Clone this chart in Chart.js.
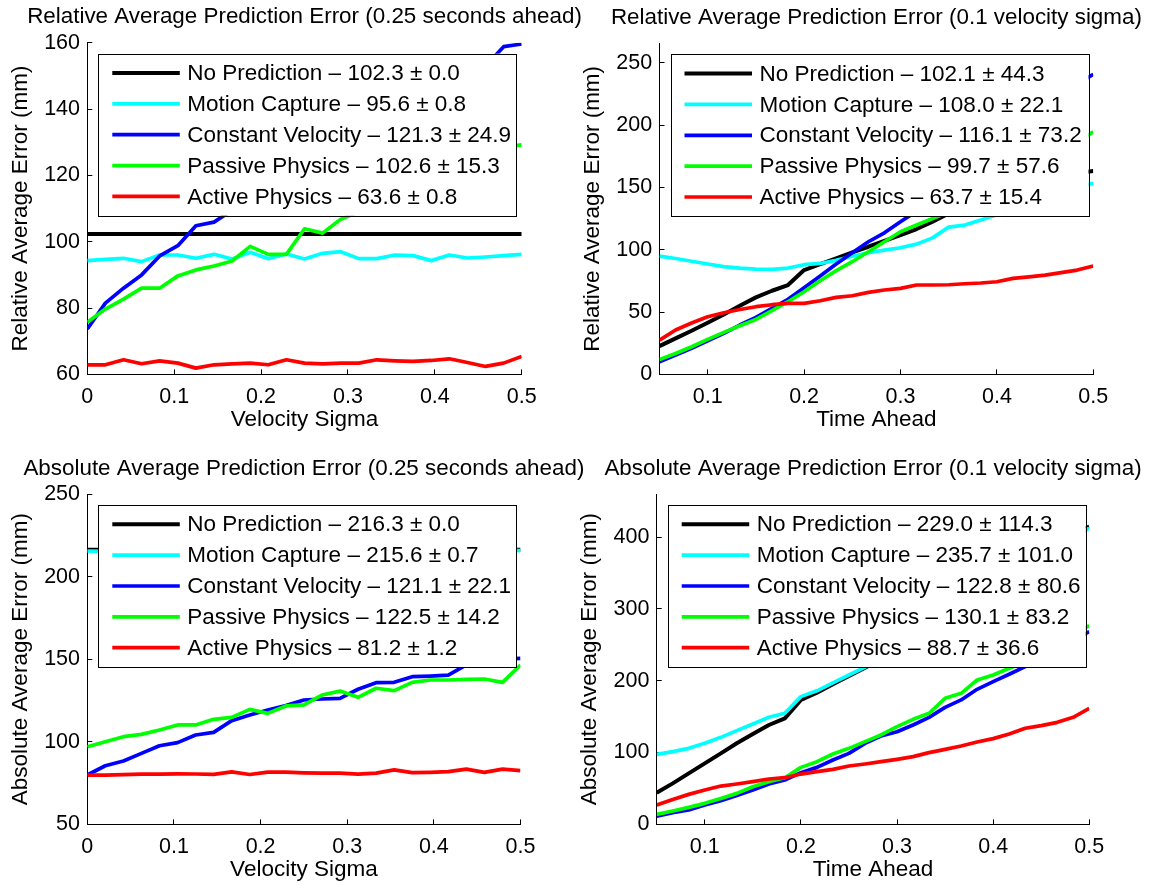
<!DOCTYPE html>
<html>
<head>
<meta charset="utf-8">
<title>Average Prediction Error</title>
<script src="https://cdn.jsdelivr.net/npm/chart.js@4.4.0/dist/chart.umd.min.js"></script>
<style>
  html, body { margin: 0; padding: 0; background: #ffffff; }
  #wrap { position: relative; width: 1152px; height: 885px; overflow: hidden; }
  #wrap canvas { position: absolute; left: 0; top: 0; }
</style>
</head>
<body>
<div id="wrap">
  <canvas id="relSigma" width="1152" height="885"></canvas>
  <canvas id="relTime" width="1152" height="885"></canvas>
  <canvas id="absSigma" width="1152" height="885"></canvas>
  <canvas id="absTime" width="1152" height="885"></canvas>
</div>
<script>
// x samples
const velocitySigma = [0, 0.0208, 0.0417, 0.0625, 0.0833, 0.1042, 0.125, 0.1458, 0.1667, 0.1875, 0.2083, 0.2292, 0.25,
  0.2708, 0.2917, 0.3125, 0.3333, 0.3542, 0.375, 0.3958, 0.4167, 0.4375, 0.4583, 0.4792, 0.5];
const timeAhead = [0.05, 0.0667, 0.0833, 0.1, 0.1167, 0.1333, 0.15, 0.1667, 0.1833, 0.2, 0.2167, 0.2333, 0.25, 0.2667,
  0.2833, 0.3, 0.3167, 0.3333, 0.35, 0.3667, 0.3833, 0.4, 0.4167, 0.4333, 0.45, 0.4667, 0.4833, 0.5];

const methodNames = ['No Prediction', 'Motion Capture', 'Constant Velocity', 'Passive Physics', 'Active Physics'];
const methodColors = ['#000000', '#00ffff', '#0000ff', '#00ff00', '#ff0000'];

// relative error, 0.25 s ahead
const relSigmaNoPred = [102.3, 102.3, 102.3, 102.3, 102.3, 102.3, 102.3, 102.3, 102.3, 102.3, 102.3, 102.3, 102.3,
  102.3, 102.3, 102.3, 102.3, 102.3, 102.3, 102.3, 102.3, 102.3, 102.3, 102.3, 102.3];
const relSigmaMocap = [94.3, 94.7, 95.0, 94.0, 96.0, 96.0, 95.0, 96.2, 94.8, 96.8, 94.9, 96.3, 94.8, 96.5, 97.0, 94.9,
  94.9, 96.0, 95.8, 94.3, 96.0, 95.1, 95.4, 95.8, 96.2];
const relSigmaConstVel = [73.7, 81.5, 86.0, 90.0, 95.7, 98.8, 104.8, 105.9, 109.5, 113.0, 116.5, 119.5, 122.0, 124.5,
  127.5, 130.5, 134.0, 137.5, 141.0, 144.5, 148.0, 151.0, 153.0, 158.8, 159.6];
const relSigmaPassive = [75.7, 79.7, 82.7, 86.0, 86.0, 89.7, 91.5, 92.7, 94.2, 98.6, 96.2, 96.2, 103.9, 102.6, 106.8,
  109.0, 111.5, 113.5, 115.5, 117.5, 119.5, 121.5, 124.0, 128.5, 129.2];
const relSigmaActive = [62.9, 62.9, 64.4, 63.2, 64.1, 63.4, 61.9, 62.9, 63.2, 63.4, 62.9, 64.4, 63.4, 63.2, 63.4, 63.4,
  64.4, 64.1, 63.9, 64.2, 64.7, 63.6, 62.4, 63.4, 65.4];
const relSigmaStats = ['102.3 ± 0.0', '95.6 ± 0.8', '121.3 ± 24.9', '102.6 ± 15.3', '63.6 ± 0.8'];

// relative error, 0.1 velocity sigma
const relTimeNoPred = [22.7, 28.9, 35.0, 41.4, 48.1, 55.1, 61.8, 67.1, 71.7, 83.7, 88.5, 93.1, 97.9, 102.4, 107.2,
  111.8, 116.6, 122.5, 129.0, 134.5, 140.0, 145.0, 149.5, 153.5, 157.0, 160.0, 161.5, 163.1];
const relTimeMocap = [94.9, 93.0, 90.8, 88.6, 86.5, 85.3, 84.5, 84.2, 85.3, 88.0, 89.0, 91.5, 94.8, 97.6, 99.7, 101.6,
  104.5, 109.5, 118.2, 119.8, 123.8, 128.0, 133.0, 138.0, 143.0, 147.0, 150.5, 153.2];
const relTimeConstVel = [10.2, 15.5, 20.9, 27.0, 32.9, 39.6, 45.7, 52.9, 60.2, 69.5, 78.9, 88.5, 97.6, 106.4, 113.6,
  122.5, 131.0, 141.0, 152.0, 162.0, 173.0, 183.0, 194.0, 204.0, 214.0, 224.0, 233.0, 240.7];
const relTimePassive = [12.0, 16.8, 22.2, 28.1, 33.7, 39.0, 44.1, 51.1, 58.3, 66.3, 75.1, 83.2, 90.4, 98.4, 106.4,
  114.4, 119.8, 125.1, 130.0, 137.0, 144.0, 151.0, 158.0, 165.0, 172.0, 179.0, 186.0, 194.7];
const relTimeActive = [27.5, 35.6, 41.2, 46.3, 49.5, 52.1, 54.3, 55.9, 57.0, 57.0, 59.1, 61.8, 63.1, 65.8, 67.7, 69.0,
  71.7, 71.7, 71.9, 72.7, 73.3, 74.3, 77.0, 78.3, 79.7, 81.6, 83.7, 86.9];
const relTimeStats = ['102.1 ± 44.3', '108.0 ± 22.1', '116.1 ± 73.2', '99.7 ± 57.6', '63.7 ± 15.4'];

// absolute error, 0.25 s ahead
const absSigmaNoPred = [216.3, 216.3, 216.3, 216.3, 216.3, 216.3, 216.3, 216.3, 216.3, 216.3, 216.3, 216.3, 216.3,
  216.3, 216.3, 216.3, 216.3, 216.3, 216.3, 216.3, 216.3, 216.3, 216.3, 216.3, 216.3];
const absSigmaMocap = [215.5, 215.3, 215.8, 215.2, 216.0, 216.3, 215.4, 215.0, 215.7, 216.4, 215.3, 215.9, 216.5,
  215.4, 215.0, 215.6, 216.2, 215.1, 215.8, 216.4, 215.3, 214.9, 215.9, 216.2, 215.7];
const absSigmaConstVel = [79.9, 85.5, 88.4, 93.0, 97.6, 99.5, 104.1, 105.7, 112.8, 116.2, 119.2, 121.9, 125.3, 125.9,
  126.3, 131.8, 135.8, 136.0, 139.4, 139.8, 140.4, 146.5, 148.5, 150.0, 150.5];
const absSigmaPassive = [97.0, 100.0, 103.1, 104.5, 107.1, 110.2, 110.2, 113.6, 114.8, 119.6, 117.2, 121.7, 122.3,
  128.3, 130.7, 126.9, 132.4, 131.0, 136.0, 137.4, 137.4, 137.8, 138.0, 136.0, 146.5];
const absSigmaActive = [79.8, 79.8, 80.1, 80.4, 80.4, 80.6, 80.5, 80.3, 81.8, 80.2, 81.6, 81.6, 81.2, 81.0, 81.0, 80.4,
  81.0, 83.0, 81.3, 81.5, 81.9, 83.5, 81.5, 83.5, 82.5];
const absSigmaStats = ['216.3 ± 0.0', '215.6 ± 0.7', '121.1 ± 22.1', '122.5 ± 14.2', '81.2 ± 1.2'];

// absolute error, 0.1 velocity sigma
const absTimeNoPred = [44.1, 57.1, 71.1, 85.0, 98.9, 112.9, 125.9, 138.4, 147.7, 173.3, 183.5, 195.0, 206.5, 218.0,
  230.0, 245.0, 259.0, 273.0, 288.0, 302.0, 316.0, 330.0, 344.0, 358.0, 373.0, 388.0, 403.0, 414.8];
const absTimeMocap = [97.5, 101.3, 105.9, 112.9, 121.2, 130.5, 139.8, 149.1, 154.7, 177.9, 186.0, 197.0, 208.0, 219.0,
  230.0, 243.0, 257.0, 271.0, 285.0, 299.0, 313.0, 327.0, 341.0, 355.0, 370.0, 385.0, 399.0, 412.5];
const absTimeConstVel = [11.6, 16.3, 20.0, 26.9, 33.0, 40.4, 47.8, 56.2, 61.8, 72.0, 79.4, 89.6, 98.9, 112.9, 123.1,
  129.1, 138.4, 149.1, 163.0, 173.3, 188.1, 198.8, 209.0, 219.7, 232.0, 244.0, 256.0, 268.5];
const absTimePassive = [13.9, 18.6, 23.7, 29.3, 36.2, 43.2, 52.5, 59.5, 65.0, 79.4, 87.3, 98.0, 105.9, 115.2, 124.5,
  136.1, 146.3, 154.7, 175.6, 182.5, 201.1, 208.1, 217.4, 226.0, 238.0, 251.0, 264.0, 276.8];
const absTimeActive = [26.9, 34.8, 41.8, 47.8, 53.4, 56.2, 59.5, 63.2, 65.0, 70.1, 73.4, 76.6, 81.3, 84.1, 87.3, 90.6,
  94.3, 99.9, 104.5, 109.2, 114.7, 119.4, 125.9, 133.8, 137.5, 142.1, 149.1, 161.6];
const absTimeStats = ['229.0 ± 114.3', '235.7 ± 101.0', '122.8 ± 80.6', '130.1 ± 83.2', '88.7 ± 36.6'];

const FONT = '"Liberation Sans", Arial, Helvetica, sans-serif';
Chart.defaults.font.family = FONT;
Chart.defaults.color = '#000';

// title above the axes and the boxed legend in the upper left corner (MATLAB style)
const matlabDecor = {
  id: 'matlabDecor',
  afterDatasetsDraw(chart, args, opts) {
    const ctx = chart.ctx;
    const area = chart.chartArea;
    const bx = area.left + 11, by = area.top + 11, bw = 418, bh = 162;
    ctx.save();
    ctx.fillStyle = '#ffffff';
    ctx.fillRect(bx, by, bw, bh);
    ctx.strokeStyle = '#000';
    ctx.lineWidth = 1;
    ctx.strokeRect(Math.round(bx) + 0.5, Math.round(by) + 0.5, bw, bh);
    ctx.font = '22.5px ' + FONT;
    ctx.textBaseline = 'middle';
    ctx.textAlign = 'left';
    chart.data.datasets.forEach((ds, i) => {
      const y = by + 19.3 + i * 30.85;
      ctx.strokeStyle = ds.borderColor;
      ctx.lineWidth = ds.borderWidth;
      ctx.beginPath();
      ctx.moveTo(bx + 14, y);
      ctx.lineTo(bx + 81.5, y);
      ctx.stroke();
      ctx.fillStyle = '#000';
      ctx.fillText(ds.label, bx + 89, y + 0.9);
    });
    ctx.restore();
  },
  afterDraw(chart, args, opts) {
    const ctx = chart.ctx;
    const area = chart.chartArea;
    ctx.save();
    ctx.font = '22.4px ' + FONT;
    ctx.fillStyle = '#000';
    ctx.textAlign = 'center';
    ctx.textBaseline = 'middle';
    ctx.fillText(opts.title, (area.left + area.right) / 2, area.top - 25.4);
    ctx.restore();
  }
};

function makeSeries(xs, ys) {
  return xs.map((x, i) => ({ x: x, y: ys[i] }));
}

function drawPanel(id, box, xs, seriesList, stats, cfg) {
  const datasets = seriesList.map((ys, i) => ({
    label: methodNames[i] + ' – ' + stats[i],
    data: makeSeries(xs, ys),
    borderColor: methodColors[i],
    backgroundColor: methodColors[i],
    borderWidth: i === 0 ? 4 : 3.7,
    pointRadius: 0,
    tension: 0,
    borderJoinStyle: 'round',
    order: 5 - i
  }));

  const axisGrid = { drawOnChartArea: false, drawTicks: true, tickLength: -5, color: '#000', lineWidth: 1 };
  const tickFont = { size: 21.5 };
  const titleFont = { size: 22.5 };

  new Chart(document.getElementById(id), {
    type: 'line',
    data: { datasets: datasets },
    options: {
      responsive: false,
      animation: false,
      devicePixelRatio: 1,
      events: [],
      layout: {
        padding: { left: box[0] - 80, top: box[1], right: 1152 - box[2], bottom: 885 - box[3] - 59.3 }
      },
      scales: {
        x: {
          type: 'linear',
          min: cfg.xMin, max: cfg.xMax,
          ticks: { stepSize: 0.1, padding: 14.3, font: tickFont, color: '#000', maxRotation: 0, autoSkip: false, includeBounds: false },
          grid: axisGrid,
          border: { display: true, color: '#000', width: 1 },
          title: { display: true, text: cfg.xTitle, font: titleFont, color: '#000', padding: 0 },
          afterFit(scale) { scale.height = 59.3; }
        },
        y: {
          type: 'linear',
          min: cfg.yMin, max: cfg.yMax,
          ticks: { stepSize: cfg.yStep, padding: 12.3, font: tickFont, color: '#000', autoSkip: false, includeBounds: false },
          grid: axisGrid,
          border: { display: true, color: '#000', width: 1 },
          title: { display: true, text: cfg.yTitle, font: titleFont, color: '#000', padding: 0 },
          afterFit(scale) { scale.width = 80; }
        }
      },
      plugins: {
        legend: { display: false },
        tooltip: { enabled: false },
        matlabDecor: { title: cfg.title }
      }
    },
    plugins: [matlabDecor]
  });
}

drawPanel('relSigma', [87.3, 42.7, 521.7, 374.4], velocitySigma,
  [relSigmaNoPred, relSigmaMocap, relSigmaConstVel, relSigmaPassive, relSigmaActive], relSigmaStats,
  { title: 'Relative Average Prediction Error (0.25 seconds ahead)', xTitle: 'Velocity Sigma',
    yTitle: 'Relative Average Error (mm)', xMin: 0, xMax: 0.5, yMin: 60, yMax: 160, yStep: 20 });

drawPanel('relTime', [659.5, 43.3, 1093.3, 374.4], timeAhead,
  [relTimeNoPred, relTimeMocap, relTimeConstVel, relTimePassive, relTimeActive], relTimeStats,
  { title: 'Relative Average Prediction Error (0.1 velocity sigma)', xTitle: 'Time Ahead',
    yTitle: 'Relative Average Error (mm)', xMin: 0.05, xMax: 0.5, yMin: 0, yMax: 265.6, yStep: 50 });

drawPanel('absSigma', [87.3, 494, 520.5, 824.4], velocitySigma,
  [absSigmaNoPred, absSigmaMocap, absSigmaConstVel, absSigmaPassive, absSigmaActive], absSigmaStats,
  { title: 'Absolute Average Prediction Error (0.25 seconds ahead)', xTitle: 'Velocity Sigma',
    yTitle: 'Absolute Average Error (mm)', xMin: 0, xMax: 0.5, yMin: 50, yMax: 250, yStep: 50 });

drawPanel('absTime', [656.7, 494, 1089.3, 824.4], timeAhead,
  [absTimeNoPred, absTimeMocap, absTimeConstVel, absTimePassive, absTimeActive], absTimeStats,
  { title: 'Absolute Average Prediction Error (0.1 velocity sigma)', xTitle: 'Time Ahead',
    yTitle: 'Absolute Average Error (mm)', xMin: 0.05, xMax: 0.5, yMin: 0, yMax: 460, yStep: 100 });
</script>
</body>
</html>
